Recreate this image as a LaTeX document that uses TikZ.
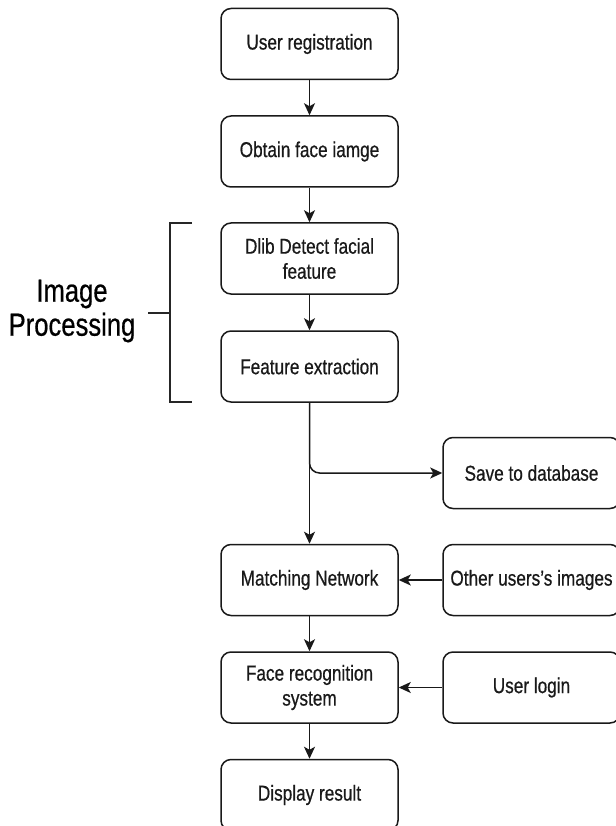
\documentclass[tikz,border=0pt]{standalone}
\usepackage{fontspec}
\setmainfont[FakeStretch=0.8,FakeBold=0.6]{Liberation Sans}
\usetikzlibrary{arrows.meta}
\begin{document}
\begin{tikzpicture}[x=1pt,y=-1pt,
  box/.style={draw=black!90, line width=1.5pt, rounded corners=10pt, minimum width=177pt, minimum height=71pt, inner sep=0pt, align=center, font=\fontsize{21.5}{25}\selectfont, text=black!90},
  arr/.style={draw=black!90, line width=1.5pt, -{Stealth[length=12pt,width=11pt,inset=3pt]}}]
\useasboundingbox (0,0) rectangle (615,826);
\node[box] (n1) at (309.5,44) {User registration};
\node[box] (n2) at (309.5,151.5) {Obtain face iamge};
\node[box] (n3) at (309.5,258.5) {Dlib Detect facial\\feature};
\node[box] (n4) at (309.5,366.5) {Feature extraction};
\node[box] (save) at (531.5,473) {Save to database};
\node[box] (match) at (309.5,580) {Matching Network};
\node[box] (other) at (531.5,580) {Other users\char"0027 s images};
\node[box] (face) at (309.5,687.5) {Face recognition\\system};
\node[box] (login) at (531.5,687.5) {User login};
\node[box] (disp) at (309.5,795) {Display result};
\draw[arr] (n1) -- (n2);
\draw[arr] (n2) -- (n3);
\draw[arr] (n3) -- (n4);
\draw[arr] (n4) -- (match);
\draw[arr, rounded corners=10pt] (n4.south) |- (save.west);
\draw[arr] (other) -- (match);
\draw[arr] (login) -- (face);
\draw[arr] (match) -- (face);
\draw[arr] (face) -- (disp);
\coordinate (bt) at (192,223);
\coordinate (bb) at (192,402);
\coordinate (bm) at (148,313);
\draw[line width=2.8pt, draw=black!85] (bt) -| (170,402) -- (bb);
\draw[line width=2.8pt, draw=black!85] (bm) -- (170,313);
\node[align=center, font=\fontsize{32}{34}\selectfont, text=black] (lbl) at (72,311) {Image\\Processing};
\end{tikzpicture}
\end{document}
